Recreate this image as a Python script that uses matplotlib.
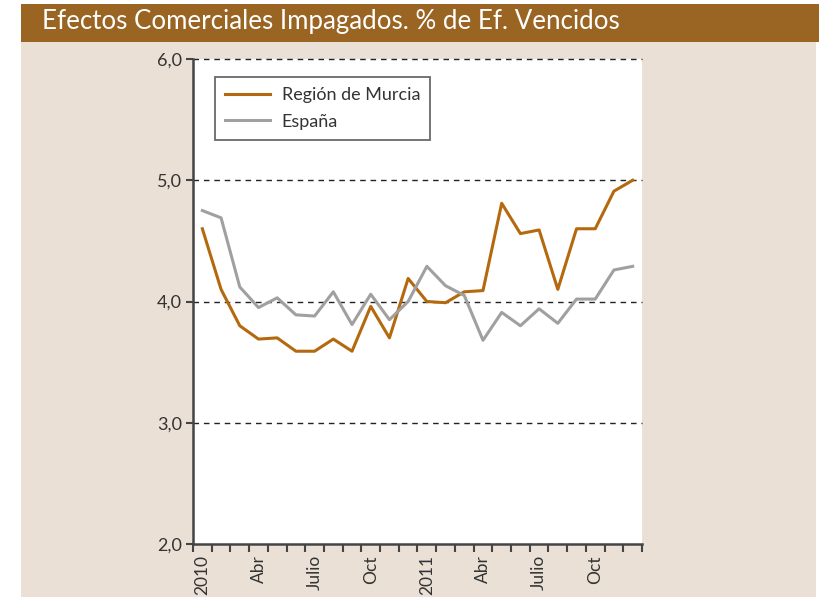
import matplotlib
matplotlib.use("Agg")
import matplotlib.pyplot as plt
from matplotlib.patches import Rectangle
from matplotlib.ticker import FixedLocator, FuncFormatter

plt.rcParams['font.family'] = ['Lato', 'DejaVu Sans']

months = list(range(24))
tick_labels = ["2010", "Abr", "Julio", "Oct", "2011", "Abr", "Julio", "Oct"]
tick_pos = [0, 3, 6, 9, 12, 15, 18, 21]

murcia = [4.60, 4.10, 3.80, 3.69, 3.70, 3.59, 3.59, 3.69, 3.59, 3.96, 3.70, 4.19,
          4.00, 3.99, 4.08, 4.09, 4.81, 4.56, 4.59, 4.10, 4.60, 4.60, 4.91, 5.00]
espana = [4.75, 4.69, 4.12, 3.95, 4.03, 3.89, 3.88, 4.08, 3.81, 4.06, 3.85, 4.00,
          4.29, 4.13, 4.05, 3.68, 3.91, 3.80, 3.94, 3.82, 4.02, 4.02, 4.26, 4.29]

c_orange = "#B4690E"
c_gray = "#A0A0A0"
c_bg = "#EAE0D6"
c_title = "#9A6423"

W, H = 820, 597
fig = plt.figure(figsize=(W / 100, H / 100), dpi=100)
fig.patch.set_facecolor("white")

# background panels
fig.patches.append(Rectangle((21 / W, 0), (816 - 21) / W, (H - 42) / H,
                             transform=fig.transFigure, facecolor=c_bg, edgecolor="none", zorder=-10))
fig.patches.append(Rectangle((21 / W, (H - 42) / H), (W - 21) / W, 38 / H,
                             transform=fig.transFigure, facecolor=c_title, edgecolor="none", zorder=-10))
fig.text(42 / W, 1 - 22 / H, "Efectos Comerciales Impagados. % de Ef. Vencidos",
         color="white", fontsize=18.6, va="center", ha="left")

ax = fig.add_axes([193 / W, 1 - 544 / H, (642 - 193) / W, (544 - 59) / H])
ax.set_zorder(5)
ax.set_facecolor("white")

ax.plot(months, murcia, color=c_orange, lw=2.2, label="Región de Murcia", zorder=3)
ax.plot(months, espana, color=c_gray, lw=2.2, label="España", zorder=3)

ax.set_xlim(-0.5, 23.5)
ax.set_ylim(2.0, 6.0)

for v in [3.0, 4.0, 5.0, 6.0]:
    ax.axhline(v, color="#222222", lw=1.0, ls=(0, (4, 3.5)), zorder=2, clip_on=False)

ax.yaxis.set_major_locator(FixedLocator([2.0, 3.0, 4.0, 5.0, 6.0]))
ax.yaxis.set_major_formatter(FuncFormatter(lambda v, p: f"{v:.1f}".replace(".", ",")))
ax.xaxis.set_minor_locator(FixedLocator([i - 0.5 for i in range(25)]))
ax.set_xticks(tick_pos)
ax.set_xticklabels(tick_labels, rotation=90, fontsize=12.5, color="#333333")
ax.tick_params(axis="x", which="major", length=0, pad=8)
ax.tick_params(axis="x", which="minor", length=6, width=1.5, color="#444444", direction="out")
ax.tick_params(axis="y", length=5, width=1.5, color="#444444", labelsize=13, labelcolor="#333333", pad=3)

for s in ["top", "right"]:
    ax.spines[s].set_visible(False)
for s in ["left", "bottom"]:
    ax.spines[s].set_color("#444444")
    ax.spines[s].set_linewidth(1.8)

leg = ax.legend(loc="upper left", bbox_to_anchor=((215 - 193) / (642 - 193), 1 - (77 - 59) / (544 - 59)),
                fontsize=13, frameon=True, fancybox=False, handlelength=2.5, borderpad=0.55,
                labelspacing=0.6, handletextpad=0.65, borderaxespad=0)
leg.get_frame().set_edgecolor("#444444")
leg.get_frame().set_linewidth(1.3)
for t in leg.get_texts():
    t.set_color("#333333")

fig.savefig("out.png", dpi=100, facecolor=fig.get_facecolor())
